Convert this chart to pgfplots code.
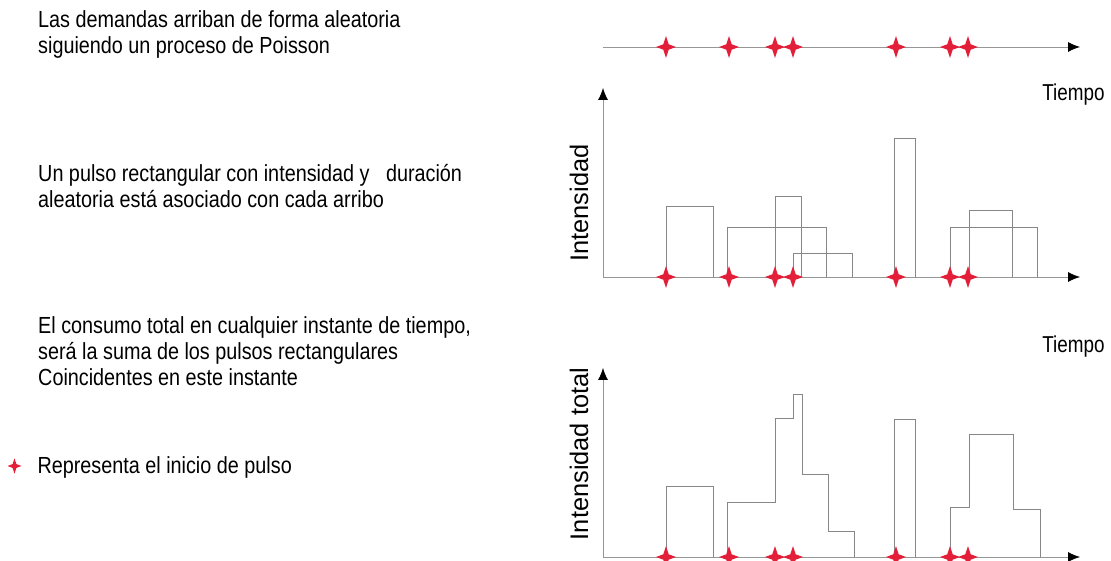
\documentclass[border=0pt]{standalone}
\usepackage{fontspec}
\setmainfont{Liberation Sans}[FakeStretch=0.85]
\newfontfamily\plainsans{Liberation Sans}
\newfontfamily\narrowsans{Liberation Sans}[FakeStretch=0.82]
\usepackage{pgfplots}
\pgfplotsset{compat=1.18}
\usetikzlibrary{arrows.meta}

\definecolor{starred}{RGB}{226,30,56}
\definecolor{axgray}{RGB}{150,150,150}
\definecolor{pulsegray}{RGB}{135,135,135}

\newcommand\lefttext{\fontsize{23.3}{27}\selectfont}
\newcommand\tiempofont{\narrowsans\fontsize{23}{26}\selectfont}
\newcommand\ylabfont{\plainsans\fontsize{25.4}{30}\selectfont}

\pgfdeclareplotmark{fourstar}{%
  \pgfpathmoveto{\pgfpoint{0pt}{1.1\pgfplotmarksize}}%
  \pgfpathlineto{\pgfpoint{0.27\pgfplotmarksize}{0.27\pgfplotmarksize}}%
  \pgfpathlineto{\pgfpoint{\pgfplotmarksize}{0pt}}%
  \pgfpathlineto{\pgfpoint{0.27\pgfplotmarksize}{-0.27\pgfplotmarksize}}%
  \pgfpathlineto{\pgfpoint{0pt}{-1.1\pgfplotmarksize}}%
  \pgfpathlineto{\pgfpoint{-0.27\pgfplotmarksize}{-0.27\pgfplotmarksize}}%
  \pgfpathlineto{\pgfpoint{-\pgfplotmarksize}{0pt}}%
  \pgfpathlineto{\pgfpoint{-0.27\pgfplotmarksize}{0.27\pgfplotmarksize}}%
  \pgfpathclose
  \pgfusepathqfill
}

\tikzset{axarrow/.style={draw=axgray, line width=0.8pt, -{Latex[color=black,length=12pt,width=10pt]}}}

\pgfplotsset{
  diag/.style={
    scale only axis, enlargelimits=false, clip=false,
    xmin=603, xmax=1080,
    xtick=\empty, ytick=\empty,
    width=477pt, anchor=south west,
  },
  arrows/.style={
    every outer x axis line/.append style={axarrow},
    every outer y axis line/.append style={axarrow},
    every inner x axis line/.append style={axarrow},
    every inner y axis line/.append style={axarrow},
    x axis line style={axarrow},
    y axis line style={axarrow},
  },
  stars/.style={only marks, mark=fourstar, mark size=10pt, color=starred},
  pulse/.style={pulsegray, line width=0.7pt, mark=none, forget plot},
}

% pulse start times (px along the time axis)
\pgfplotstableread{
x y
666 0
729 0
775 0
793 0
896 0
950 0
968 0
}\starts

\begin{document}
\begin{tikzpicture}
\path[use as bounding box] (0,0) rectangle (1111pt,560pt);

% left explanatory text
\node[font=\lefttext, anchor=base west, inner sep=0pt] at (38pt,532.5pt) {Las demandas arriban de forma aleatoria};
\node[font=\lefttext, anchor=base west, inner sep=0pt] at (38pt,506.5pt) {siguiendo un proceso de Poisson};
\node[font=\lefttext, anchor=base west, inner sep=0pt] at (38pt,378.5pt) {Un pulso rectangular con intensidad y \ \ duración};
\node[font=\lefttext, anchor=base west, inner sep=0pt] at (38pt,352.5pt) {aleatoria está asociado con cada arribo};
\node[font=\lefttext, anchor=base west, inner sep=0pt] at (38pt,226.5pt) {El consumo total en cualquier instante de tiempo,};
\node[font=\lefttext, anchor=base west, inner sep=0pt] at (38pt,200.5pt) {será la suma de los pulsos rectangulares};
\node[font=\lefttext, anchor=base west, inner sep=0pt] at (38pt,174.5pt) {Coincidentes en este instante};

% axis titles
\node[font=\tiempofont] at (1073.5pt,465pt) {Tiempo};
\node[font=\tiempofont] at (1073.5pt,213pt) {Tiempo};
\node[font=\ylabfont, rotate=90] at (579pt,357pt) {Intensidad};
\node[font=\ylabfont, rotate=90] at (579pt,106pt) {Intensidad total};

% top: Poisson arrivals
\begin{axis}[diag, at={(603pt,503pt)}, height=20pt, ymin=-1, ymax=1,
  axis x line=middle, axis y line=none, arrows]
\addplot[stars] table {\starts};
\end{axis}

% middle: individual rectangular pulses
\begin{axis}[diag, at={(603pt,283pt)}, height=189pt, ymin=0, ymax=189,
  axis x line=bottom, axis y line=left, arrows]
\addplot[pulse] coordinates {(666,0) (666,71) (713,71) (713,0)};
\addplot[pulse] coordinates {(727,0) (727,50) (826,50) (826,0)};
\addplot[pulse] coordinates {(775,0) (775,81) (801,81) (801,0)};
\addplot[pulse] coordinates {(793,0) (793,24) (852,24) (852,0)};
\addplot[pulse] coordinates {(894,0) (894,139) (915,139) (915,0)};
\addplot[pulse] coordinates {(950,0) (950,50) (1037,50) (1037,0)};
\addplot[pulse] coordinates {(969,0) (969,67) (1012,67) (1012,0)};
\addplot[stars] table {\starts};
\end{axis}

% bottom: total intensity
\begin{axis}[diag, at={(603pt,3pt)}, height=189pt, ymin=0, ymax=189,
  axis x line=bottom, axis y line=left, arrows,
  legend style={draw=none, fill=none, inner sep=0pt, outer sep=0pt,
    font=\lefttext, at={(axis description cs:-1.2484,0.4815)}, anchor=west,
    nodes={inner sep=0pt},
    /tikz/every odd column/.append style={column sep=16pt}},
  legend image code/.code={\draw[mark size=7pt] plot coordinates {(0pt,0pt)};}]
\addplot[pulse] coordinates {(666,0) (666,71) (713,71) (713,0)};
\addplot[pulse] coordinates {(727,0) (727,55) (775,55) (775,139) (793,139) (793,163) (802,163) (802,83) (828,83) (828,26) (854,26) (854,0)};
\addplot[pulse] coordinates {(894,0) (894,138) (915,138) (915,0)};
\addplot[pulse] coordinates {(950,0) (950,50) (969,50) (969,123) (1013,123) (1013,48) (1040,48) (1040,0)};
\addplot[stars] table {\starts};
\addlegendentry{Representa el inicio de pulso}
\end{axis}
\end{tikzpicture}
\end{document}
